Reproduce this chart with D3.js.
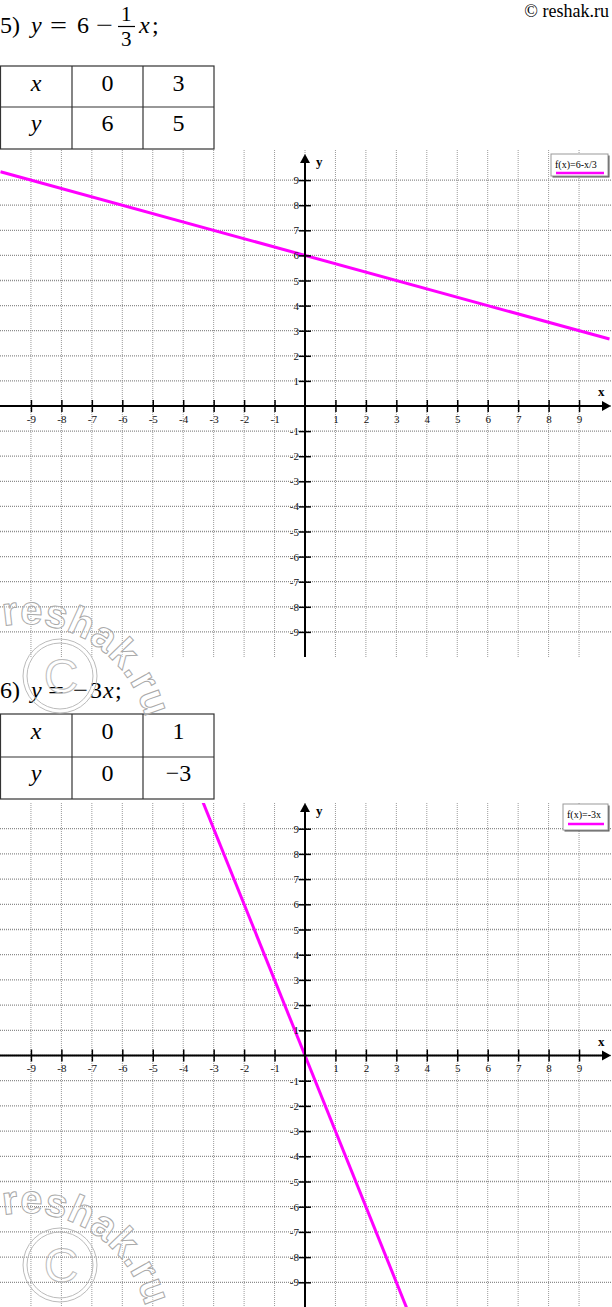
<!DOCTYPE html>
<html><head><meta charset="utf-8">
<script src="https://cdn.jsdelivr.net/npm/d3@7"></script>
<style>body{margin:0;background:#fff}svg{display:block}
.sf{font-family:"Liberation Serif","DejaVu Serif",serif}
.ss{font-family:"Liberation Sans","DejaVu Sans",sans-serif}
</style>
</head><body>
<svg id="c" width="612" height="1307"></svg>
<script>
// ---- data ----
const tickValues = [-9,-8,-7,-6,-5,-4,-3,-2,-1,1,2,3,4,5,6,7,8,9];
const gridValues = [-9,-8,-7,-6,-5,-4,-3,-2,-1,0,1,2,3,4,5,6,7,8,9];
const table1Row1 = ["x","0","3"];
const table1Row2 = ["y","6","5"];
const table2Row1 = ["x","0","1"];
const table2Row2 = ["y","0","\u22123"];
const line1X = [-10, 10];
const line1Y = [9.333, 2.667];
const line2X = [-3.5, 3.5];
const line2Y = [10.5, -10.5];
const legend1Label = "f(x)=6-x/3";
const legend2Label = "f(x)=-3x";

const svg = d3.select("#c");
const MAG = "#ff00ff";

// header
svg.append("text").attr("class","sf").attr("x",609).attr("y",17).attr("text-anchor","end")
  .style("font-size","18px").text("\u00a9 reshak.ru");

function piece(t, x, y, italic, size, len){
  const el = svg.append("text").attr("class","sf").attr("x",x).attr("y",y)
    .style("font-size",(size||24)+"px").style("font-style",italic?"italic":"normal")
    .attr("fill","#000").text(t);
  if(len) el.attr("textLength",len).attr("lengthAdjust","spacingAndGlyphs");
}
// title 1
piece("5)",0,33); piece("y",31,33,true); piece("=",50,33,false,24,17); piece("6",77,33);
piece("\u2212",96,33,false,24,17); piece("1",121,21,false,21); piece("3",121,46,false,21);
svg.append("line").attr("x1",118).attr("x2",135).attr("y1",26.5).attr("y2",26.5).attr("stroke","#000").attr("stroke-width",1.2);
piece("x",139,33,true); piece(";",152,33);
// title 2
piece("6)",0,698); piece("y",31,698,true); piece("=",48,698,false,24,16);
piece("\u2212",73,698,false,24,15); piece("3",90,698); piece("x",103,698,true); piece(";",115,698);

function drawTable(top, mid, bottom, r1, r2){
  const cols = [0,72,143,214];
  const g = svg.append("g");
  g.append("rect").attr("x",0.5).attr("y",top).attr("width",213.5).attr("height",bottom-top)
    .attr("fill","none").attr("stroke","#333").attr("stroke-width",1.2);
  g.append("line").attr("x1",0).attr("x2",214).attr("y1",mid).attr("y2",mid).attr("stroke","#333").attr("stroke-width",1.2);
  [72,143].forEach(c=>g.append("line").attr("x1",c).attr("x2",c).attr("y1",top).attr("y2",bottom).attr("stroke","#333").attr("stroke-width",1.2));
  [[r1, top+24.5],[r2, mid+24]].forEach(([row,by])=>{
    row.forEach((t,i)=>{
      g.append("text").attr("class","sf").attr("x",(cols[i]+cols[i+1])/2).attr("y",by).attr("text-anchor","middle")
        .style("font-size","24px").style("font-style",i===0?"italic":"normal").text(t);
    });
  });
}
drawTable(66,107,149,table1Row1,table1Row2);
drawTable(714,757,799,table2Row1,table2Row2);

function drawChart(cfg){
  const x = d3.scaleLinear().domain([-10,10]).range([0.5,609.5]);
  const y = d3.scaleLinear().domain([-10,10]).range(cfg.yRange);
  const g = svg.append("g");
  const id = "clip"+cfg.id;
  g.append("clipPath").attr("id",id).append("rect")
    .attr("x",0).attr("y",cfg.top).attr("width",612).attr("height",cfg.bottom-cfg.top);
  // grid
  g.append("g").selectAll("line").data(gridValues).join("line")
    .attr("x1",d=>x(d)).attr("x2",d=>x(d)).attr("y1",cfg.top).attr("y2",cfg.bottom)
    .attr("stroke","#9a9a9a").attr("stroke-width",1).attr("stroke-dasharray","1,1");
  g.append("g").selectAll("line").data(gridValues).join("line")
    .attr("x1",0).attr("x2",612).attr("y1",d=>y(d)).attr("y2",d=>y(d))
    .attr("stroke","#8c8c8c").attr("stroke-width",1.3).attr("stroke-dasharray","1,1");
  // function line
  const pts = cfg.lx.map((v,i)=>[v,cfg.ly[i]]);
  g.append("path").attr("clip-path",`url(#${id})`).datum(pts)
    .attr("d",d3.line().x(d=>x(d[0])).y(d=>y(d[1])))
    .attr("fill","none").attr("stroke",MAG).attr("stroke-width",3);
  // axes
  const x0 = x(0), y0 = y(0);
  const ax = g.append("g").attr("transform",`translate(0,${y0})`)
    .call(d3.axisBottom(x).tickValues(tickValues).tickSize(6).tickFormat(d3.format("d")));
  ax.attr("font-family",null).attr("font-size",null);
  ax.select(".domain").remove();
  ax.selectAll(".tick line").attr("y1",-6).attr("y2",6).attr("stroke","#000").attr("stroke-width",1.5);
  ax.selectAll(".tick text").attr("class","sf").attr("y",9).style("font-size","11px").attr("fill","#111")
    .text(d=>String(d));
  const ay = g.append("g").attr("transform",`translate(${x0},0)`)
    .call(d3.axisLeft(y).tickValues(tickValues).tickSize(6).tickFormat(d3.format("d")));
  ay.attr("font-family",null).attr("font-size",null);
  ay.select(".domain").remove();
  ay.selectAll(".tick line").attr("x1",-6).attr("x2",6).attr("stroke","#000").attr("stroke-width",1.5);
  ay.selectAll(".tick text").attr("class","sf").attr("x",-6).style("font-size","11px").attr("fill","#111")
    .text(d=>String(d));
  // axis lines
  g.append("line").attr("x1",0).attr("x2",604).attr("y1",y0).attr("y2",y0).attr("stroke","#000").attr("stroke-width",2);
  g.append("line").attr("x1",x0).attr("x2",x0).attr("y1",cfg.bottom).attr("y2",cfg.tip+6).attr("stroke","#000").attr("stroke-width",2);
  g.append("path").attr("d",`M${x0},${cfg.tip} L${x0-5},${cfg.tip+9} L${x0+5},${cfg.tip+9} Z`).attr("fill","#000");
  g.append("path").attr("d",`M611,${y0} L602,${y0-5} L602,${y0+5} Z`).attr("fill","#000");
  g.append("text").attr("class","sf").attr("x",x0+11).attr("y",cfg.tip+12).style("font-weight","bold").style("font-size","13px").text("y");
  g.append("text").attr("class","sf").attr("x",598).attr("y",y0-10).style("font-weight","bold").style("font-size","13px").text("x");
  // legend
  const L = cfg.legend;
  g.append("rect").attr("x",L.x+1.5).attr("y",L.y+1.5).attr("width",L.w).attr("height",L.h).attr("fill","#555");
  g.append("rect").attr("x",L.x).attr("y",L.y).attr("width",L.w).attr("height",L.h).attr("fill","#fff").attr("stroke","#999").attr("stroke-width",1);
  g.append("text").attr("class","sf").attr("x",L.x+4).attr("y",L.y+L.ty).style("font-size","10px").text(L.label);
  g.append("line").attr("x1",L.x+5).attr("x2",L.x+L.w-4).attr("y1",L.y+L.ly).attr("y2",L.y+L.ly).attr("stroke",MAG).attr("stroke-width",2.5);
}

drawChart({id:1, yRange:[657,155], top:150, bottom:657, tip:154, lx:line1X, ly:line1Y,
  legend:{x:551,y:154,w:57,h:22,ty:14,ly:19,label:legend1Label}});
drawChart({id:2, yRange:[1307.5,803.5], top:803, bottom:1307, tip:803, lx:line2X, ly:line2Y,
  legend:{x:563,y:804,w:45,h:26,ty:14,ly:20,label:legend2Label}});

// watermarks
function watermark(dy){
  const g = svg.append("g").attr("transform",`translate(0,${dy})`);
  const cx=25, cy=1337, r=124;
  const a0 = -100*Math.PI/180, a1 = -5*Math.PI/180;
  const pid = "wm"+dy;
  g.append("path").attr("id",pid).attr("fill","none")
    .attr("d",`M${cx+r*Math.cos(a0)},${cy+r*Math.sin(a0)} A${r},${r} 0 0 1 ${cx+r*Math.cos(a1)},${cy+r*Math.sin(a1)}`);
  g.append("text").attr("class","ss").style("font-weight","bold")
    .style("font-size","40px").attr("fill","rgba(255,255,255,0.35)").attr("stroke","#aaa").attr("stroke-width",1)
    .append("textPath").attr("href","#"+pid).attr("textLength",186).attr("lengthAdjust","spacing").text("reshak.ru");
  [37,33].forEach(rr=>g.append("circle").attr("cx",60).attr("cy",1265).attr("r",rr).attr("fill","none").attr("stroke","#bbb").attr("stroke-width",1));
  g.append("text").attr("class","ss").attr("x",61).attr("y",1282).attr("text-anchor","middle")
    .style("font-size","48px").attr("fill","none").attr("stroke","#bbb").attr("stroke-width",1).text("C");
}
watermark(-589);
watermark(0);
</script>
</body></html>
